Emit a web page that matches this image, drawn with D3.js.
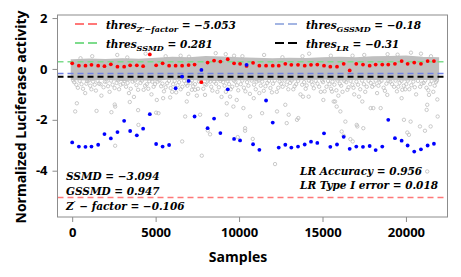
<!DOCTYPE html>
<meta charset="utf-8">
<style>
    body { margin: 0; background: #fff; }
    .tick text { font: bold 13px "Open Sans", sans-serif; fill: #000; }
    .tick line { stroke: #8c8c8c; }
    .title { font: bold 14px "Open Sans", sans-serif; }
    .math { font: bold italic 10.5px "DejaVu Serif", serif; }
</style>
<svg width="461" height="277"></svg>
<script src="https://d3js.org/d3.v7.min.js"></script>
<script>

    // plate controls: sample index, positive (red) and negative (blue) values
    var controlSamples = [0, 401, 796, 1156, 1557, 1934, 2317, 2713, 3114, 3473, 3874, 4251, 4653, 5030, 5419, 5808,
        6198, 6587, 6976, 7335, 7743, 8114, 8503, 8880, 9323, 9701, 10060, 10449, 10838, 11216, 11617, 12018, 12377,
        12772, 13132, 13533, 13934, 14311, 14689, 15090, 15467, 15868, 16269, 16628, 17024, 17425, 17826, 18186,
        18581, 18940, 19341, 19742, 20102, 20497, 20898, 21299, 21677];
    var posValues = [0.22, 0.13, 0.13, 0.16, 0.13, 0.11, 0.18, 0.09, 0.09, 0.14, 0.14, 0.11, 0.57, 0.14, 0.22, 0.13,
        0.13, 0.13, 0.15, 0.17, -0.52, 0.25, 0.33, 0.29, 0.38, 0.22, 0.20, 0.12, 0.24, 0.13, 0.13, 0.13, 0.13, 0.20,
        0.16, 0.16, 0.13, 0.16, 0.17, 0.13, 0.09, 0.09, 0.20, -0.06, 0.20, 0.17, 0.13, 0.17, 0.17, 0.17, 0.20, 0.31,
        0.20, 0.25, 0.20, 0.31, 0.31];
    var negValues = [-2.89, -3.05, -3.06, -3.05, -2.98, -2.56, -2.73, -2.48, -2.04, -2.44, -2.61, -2.35, -1.78, -2.95,
        -3.05, -2.99, -0.76, -0.30, -0.47, -1.87, -0.04, -2.33, -1.95, -2.52, -0.80, -2.75, -2.81, 0.16, -2.96, -3.18,
        -1.24, -2.11, -3.09, -2.98, -3.09, -3.05, -2.97, -2.86, -2.91, -2.53, -3.06, -2.97, -2.67, -3.14, -3.05, -3.06,
        -3.03, -3.19, -3.05, -2.00, -2.72, -2.82, -3.01, -3.25, -3.16, -3.01, -2.94];

    // dense cloud of samples: upper / lower edge of the solid band
    var bandSamples = [0, 1000, 2000, 3000, 4000, 5000, 6000, 7000, 8000, 9000, 10000, 11000, 12000, 13000, 14000,
        15000, 16000, 17000, 18000, 19000, 20000, 21000, 21900];
    var bandTop = [0.32, 0.35, 0.33, 0.36, 0.34, 0.38, 0.42, 0.40, 0.45, 0.43, 0.40, 0.38, 0.36, 0.38, 0.37, 0.40,
        0.42, 0.40, 0.44, 0.45, 0.47, 0.42, 0.40];
    var bandBottom = [-0.38, -0.40, -0.37, -0.42, -0.39, -0.40, -0.36, -0.38, -0.40, -0.42, -0.38, -0.40, -0.37, -0.40,
        -0.38, -0.36, -0.40, -0.38, -0.37, -0.38, -0.40, -0.37, -0.38];

    // samples outside the dense band [sample, value]
    var outliers = [
        [120, -0.52], [340, -0.74], [560, -0.6], [780, -0.95], [900, -0.48], [1080, -0.66], [1250, -0.5], [1420, -0.85],
        [1610, -0.58], [1880, -0.72], [1750, -1.05], [2060, -0.5], [2240, -0.9], [2420, -0.62], [2660, -0.55], [2810, -0.8],
        [3040, -0.58], [3230, -0.7], [3400, -0.95], [3620, -0.5], [3850, -0.64], [3700, -1.1], [4090, -0.55], [4280, -0.82],
        [4470, -0.6], [4620, -0.48], [4880, -0.7], [4750, -1.0], [5120, -0.5], [5330, -0.68], [5500, -0.88], [5690, -0.56],
        [5900, -0.75], [5450, -1.15], [6050, -0.6], [6230, -0.92], [6410, -0.52], [6600, -0.7], [6820, -0.58], [6950, -0.98],
        [7080, -0.55], [7250, -0.68], [7470, -1.05], [7600, -0.5], [7860, -0.78], [8040, -0.62], [8270, -0.5], [8400, -0.85],
        [8620, -0.58], [8790, -0.72], [8950, -1.1], [9050, -0.52], [9210, -0.9], [9400, -0.6], [9590, -0.7], [9780, -0.5],
        [9950, -0.84], [10100, -0.6], [10290, -0.74], [10480, -0.52], [10650, -0.98], [10900, -0.62], [11050, -0.5],
        [11300, -0.66], [11480, -0.86], [11690, -0.55], [11880, -0.75], [12030, -0.58], [12260, -0.9], [12430, -0.5],
        [12610, -0.7], [12850, -0.62], [13060, -0.55], [13250, -0.8], [13420, -0.6], [13680, -1.0], [13900, -0.52],
        [14050, -0.65], [14330, -0.5], [14480, -0.76], [14700, -0.58], [14900, -0.9], [15030, -0.52], [15240, -0.7],
        [15420, -0.6], [15600, -0.5], [15830, -0.84], [15950, -1.05], [16040, -0.58], [16200, -0.9], [16420, -0.52],
        [16560, -0.72], [16790, -0.62], [16900, -1.0], [17030, -0.5], [17260, -0.8], [17480, -0.6], [17650, -0.7],
        [17890, -0.55], [18100, -0.62], [18270, -0.95], [18420, -0.52], [18660, -0.74], [18830, -0.58], [19060, -0.5],
        [19290, -0.7], [19460, -0.88], [19620, -0.55], [19870, -0.66], [20020, -0.6], [20200, -0.8], [20440, -0.5],
        [20610, -1.0], [20850, -0.7], [21060, -0.55], [21230, -0.74], [21450, -0.6], [21640, -0.9], [21800, -0.52],
        [21880, -1.2],
        [60, -0.45], [250, -0.62], [450, -0.47], [650, -0.78], [850, -0.58], [1000, -0.45], [1150, -0.8], [1350, -0.62],
        [1520, -0.47], [1700, -0.6], [1960, -0.5], [2150, -0.68], [2330, -0.46], [2540, -0.75], [2750, -0.45],
        [2900, -0.62], [3130, -0.47], [3320, -0.55], [3510, -0.78], [3760, -0.46], [3950, -0.82], [4180, -0.46],
        [4370, -0.66], [4560, -0.78], [4800, -0.5], [4960, -0.6], [5220, -0.45], [5410, -0.58], [5600, -0.72],
        [5800, -0.47], [5990, -0.9], [6140, -0.47], [6320, -0.64], [6500, -0.8], [6710, -0.47], [6900, -0.66],
        [7170, -0.46], [7360, -0.6], [7540, -0.78], [7720, -0.47], [7950, -0.6], [8140, -0.46], [8330, -0.7],
        [8510, -0.5], [8700, -0.9], [8880, -0.47], [9130, -0.66], [9310, -0.47], [9500, -0.8], [9690, -0.46],
        [9870, -0.64], [10190, -0.46], [10380, -0.88], [10560, -0.66], [10760, -0.46], [11000, -0.8], [11170, -0.46],
        [11390, -0.5], [11580, -0.68], [11790, -0.47], [11970, -0.92], [12140, -0.46], [12350, -0.74], [12520, -0.58],
        [12730, -0.46], [12950, -0.8], [13150, -0.46], [13330, -0.68], [13540, -0.47], [13780, -0.62], [13990, -0.78],
        [14190, -0.46], [14400, -0.62], [14590, -0.47], [14800, -0.7], [14980, -0.46], [15130, -0.88], [15330, -0.47],
        [15510, -0.78], [15710, -0.62], [15900, -0.46], [16120, -0.66], [16310, -0.47], [16490, -0.82], [16680, -0.47],
        [16860, -0.74], [17130, -0.62], [17370, -0.46], [17560, -0.9], [17760, -0.47], [17980, -0.7], [18190, -0.46],
        [18350, -0.66], [18530, -0.47], [18740, -0.86], [18950, -0.47], [19170, -0.6], [19380, -0.46], [19540, -0.7],
        [19730, -0.47], [19960, -0.8], [20110, -0.46], [20320, -0.64], [20530, -0.72], [20720, -0.47], [20940, -0.58],
        [21150, -0.46], [21340, -0.84], [21540, -0.47], [21720, -0.66], [21850, -0.46],
        [1200, 0.5], [2700, 0.55], [4400, 0.6], [6500, 0.52], [8600, 0.62], [9200, 0.58], [11500, 0.55], [14200, 0.6],
        [16800, 0.52], [18900, 0.58], [20300, 0.64], [20900, 0.6], [500, 0.42], [3300, 0.45], [5600, 0.5], [7000, 0.48],
        [10200, 0.5], [12600, 0.46], [13800, 0.5], [15500, 0.52], [17500, 0.55], [19500, 0.56], [21500, 0.5], [9700, 0.52],
        [280, -1.35], [180, -1.67], [2575, -1.48], [3970, -2.2], [5070, -1.22], [7170, -0.82], [7665, -1.8], [9660, -1.48],
        [9460, -1.09], [10660, -1.87], [12855, -2.13], [13550, -1.93], [13830, -1.09], [15050, -1.22], [15750, -1.28],
        [15850, -1.48], [17050, -2.2], [18045, -1.54], [19740, -1.15], [20840, -2.26], [21240, -1.61], [17445, -2.33],
        [1460, -1.65], [2350, -1.7], [2550, -1.4], [3450, -1.3], [3950, -1.62], [5030, -1.72], [5870, -1.12],
        [6866, -1.28], [7960, -1.02], [9263, -1.35], [9860, -1.22], [10260, -1.54], [5170, -1.74], [6770, -1.87],
        [10360, -2.33], [9263, -1.8], [7365, -0.82], [11216, -0.95], [11380, -1.74], [12275, -1.67], [12770, -1.41],
        [12975, -1.8], [13470, -2.0], [14170, -1.09], [15570, -0.89], [15670, -1.28], [16070, -1.67], [16370, -2.07],
        [10880, -1.15], [17185, -1.09], [17385, -1.28], [17885, -1.54], [18485, -1.54], [18880, -1.02], [19780, -0.82],
        [19880, -2.0], [20280, -2.07], [21275, -1.41], [21380, -1.02], [21480, -2.26], [17085, -2.26], [21900, -1.87],
        [2575, -3.02], [6590, -2.85], [7766, -3.41], [8263, -2.57], [8125, -2.42], [9920, -2.68], [10360, -2.43],
        [10820, -2.75], [12155, -3.74], [16150, -2.46], [16270, -2.63], [16670, -2.76], [16810, -2.85], [20080, -2.5],
        [20180, -2.59], [21140, -2.43], [21275, -4.03]
    ];

    var thresholds = [
        {name: "Z′−factor", value: -5.053, color: "#ff7878"},
        {name: "SSMD", value: 0.281, color: "#7ddc8c"},
        {name: "GSSMD", value: -0.18, color: "#7383e6"},
        {name: "LR", value: -0.31, color: "#000000"}
    ];
    var xTicks = [0, 5000, 10000, 15000, 20000];
    var yTicks = [-4, -2, 0, 2];

    var svg = d3.select("svg"),
        plotLeft = 57.5, plotRight = 447.5, plotTop = 15, plotBottom = 217;

    var x = d3.scaleLinear().domain([-880, 22490]).range([plotLeft, plotRight]);
    var y = d3.scaleLinear().domain([-5.82, 2.12]).range([plotBottom, plotTop]);

    // dense band
    var area = d3.area()
        .x(function(d, i) { return x(bandSamples[i]); })
        .y0(function(d, i) { return y(bandBottom[i]); })
        .y1(function(d, i) { return y(bandTop[i]); });
    svg.append("path")
        .datum(bandSamples)
        .attr("d", area)
        .attr("fill", "#bfbfbf")
        .attr("stroke", "#bfbfbf")
        .attr("stroke-width", 3);

    svg.append("g").selectAll("circle")
        .data(outliers)
        .enter().append("circle")
        .attr("cx", function(d) { return x(d[0]); })
        .attr("cy", function(d) { return y(d[1]); })
        .attr("r", 1.7)
        .attr("fill", "none")
        .attr("stroke", "#bdbdbd")
        .attr("stroke-width", 0.8);

    // threshold lines
    svg.append("g").selectAll("line")
        .data(thresholds)
        .enter().append("line")
        .attr("x1", plotLeft).attr("x2", plotRight)
        .attr("y1", function(d) { return y(d.value); })
        .attr("y2", function(d) { return y(d.value); })
        .attr("stroke", function(d) { return d.color; })
        .attr("stroke-width", function(d) { return d.name == "LR" ? 2 : 1.6; })
        .attr("stroke-dasharray", "6,4");

    svg.append("g").selectAll("circle")
        .data(controlSamples)
        .enter().append("circle")
        .attr("cx", function(d) { return x(d); })
        .attr("cy", function(d, i) { return y(posValues[i]); })
        .attr("r", 1.9)
        .attr("fill", "#ff0000");

    svg.append("g").selectAll("circle")
        .data(controlSamples)
        .enter().append("circle")
        .attr("cx", function(d) { return x(d); })
        .attr("cy", function(d, i) { return y(negValues[i]); })
        .attr("r", 1.9)
        .attr("fill", "#0000ff");

    // axes
    svg.append("g")
        .attr("transform", "translate(0," + plotBottom + ")")
        .call(d3.axisBottom(x).tickValues(xTicks).tickSize(5).tickPadding(6).tickFormat(String));
    svg.append("g")
        .attr("transform", "translate(" + plotLeft + ",0)")
        .call(d3.axisLeft(y).tickValues(yTicks).tickSize(5).tickPadding(5).tickFormat(String));
    svg.selectAll(".domain").remove();

    svg.append("rect")
        .attr("x", plotLeft).attr("y", plotTop)
        .attr("width", plotRight - plotLeft).attr("height", plotBottom - plotTop)
        .attr("fill", "none")
        .attr("stroke", "#8c8c8c")
        .attr("stroke-width", 1);

    svg.append("text").attr("class", "title")
        .attr("x", 238).attr("y", 262)
        .attr("text-anchor", "middle")
        .text("Samples");
    svg.append("text").attr("class", "title")
        .attr("transform", "translate(26,117) rotate(-90)")
        .attr("text-anchor", "middle")
        .text("Normalized Luciferase activity");

    // legend
    var legendPos = [[75, 24], [75, 43], [275, 24], [275, 43]];
    thresholds.forEach(function(t, i) {
        var p = legendPos[i];
        svg.append("line")
            .attr("x1", p[0]).attr("x2", p[0] + 22)
            .attr("y1", p[1]).attr("y2", p[1])
            .attr("stroke", i == 2 ? "#a3b5e3" : t.color)
            .attr("stroke-width", 2)
            .attr("stroke-dasharray", "9,4");
        var txt = svg.append("text").attr("class", "math")
            .attr("x", p[0] + 31).attr("y", p[1] + 4.5);
        txt.append("tspan").text("thres");
        txt.append("tspan").attr("font-size", "8px").attr("dy", 3).text(t.name);
        txt.append("tspan").attr("dy", -3).text(" = " + String(t.value).replace("-", "−"));
    });

    // statistics
    var stats = ["SSMD = −3.094", "GSSMD = 0.947"];
    stats.forEach(function(s, i) {
        svg.append("text").attr("class", "math")
            .attr("x", 66).attr("y", 180 + i * 14.5).text(s);
    });
    var zf = svg.append("text").attr("class", "math").attr("x", 66).attr("y", 209.5);
    zf.append("tspan").text("Z");
    zf.append("tspan").attr("font-size", "7px").attr("dy", -4).text("′");
    zf.append("tspan").attr("dy", 4).text(" − factor = −0.106");

    var lr = ["LR Accuracy = 0.956", "LR Type I error = 0.018"];
    lr.forEach(function(s, i) {
        svg.append("text").attr("class", "math")
            .attr("x", 300).attr("y", 175 + i * 14).text(s);
    });

</script>
